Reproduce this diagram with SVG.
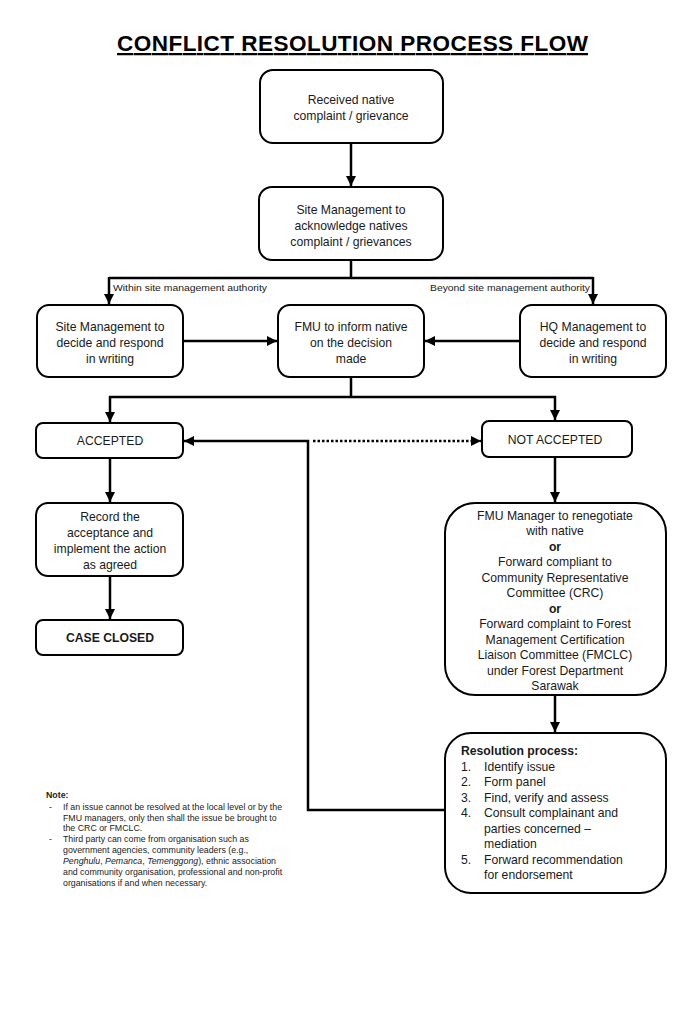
<svg xmlns="http://www.w3.org/2000/svg" width="700" height="1011" viewBox="0 0 700 1011">
<style>
.box{fill:#fff;stroke:#000;stroke-width:2}
.t{font-family:"Liberation Sans",Arial,sans-serif;font-size:12.2px;fill:#1a1a1a;text-anchor:middle}
.tl{font-family:"Liberation Sans",Arial,sans-serif;font-size:12.2px;fill:#1a1a1a}
.b{font-weight:bold}
.lbl{font-family:"Liberation Sans",Arial,sans-serif;font-size:9.5px;fill:#1a1a1a}
.note{font-family:"Liberation Sans",Arial,sans-serif;font-size:8.8px;fill:#222}
.c{fill:none;stroke:#000;stroke-width:2.5}
.d{fill:none;stroke:#000;stroke-width:2.5;stroke-dasharray:2.5 2}
</style>
<defs>
<marker id="ah" viewBox="0 0 10 10" refX="10" refY="5" markerWidth="4" markerHeight="4" orient="auto" markerUnits="strokeWidth">
<path d="M0,0 L10,5 L0,10 z" fill="#000"/>
</marker>
</defs>
<rect width="700" height="1011" fill="#fff"/>
<g id="title">
<text x="352.5" y="51" font-family="Liberation Sans,Arial,sans-serif" font-size="22.5" font-weight="bold" text-anchor="middle" text-decoration="underline" fill="#000" textLength="471" lengthAdjust="spacing">CONFLICT RESOLUTION PROCESS FLOW</text>
</g>
<g id="connectors">
<path class="c" d="M351,143 V186" marker-end="url(#ah)"/>
<path class="c" d="M351,260 V278 M109,278 H593"/>
<path class="c" d="M109,277 V304" marker-end="url(#ah)"/>
<path class="c" d="M593,277 V304" marker-end="url(#ah)"/>
<path class="c" d="M183,341 H277" marker-end="url(#ah)"/>
<path class="c" d="M520,341 H425" marker-end="url(#ah)"/>
<path class="c" d="M351,377 V397 M109,397 H556"/>
<path class="c" d="M110,396 V422" marker-end="url(#ah)"/>
<path class="c" d="M555,396 V420" marker-end="url(#ah)"/>
<path class="c" d="M445,810 H308 V441 H184" marker-end="url(#ah)"/>
<path class="d" d="M313,441 H481" marker-end="url(#ah)"/>
<path class="c" d="M110,458 V502" marker-end="url(#ah)"/>
<path class="c" d="M110,576 V619" marker-end="url(#ah)"/>
<path class="c" d="M555,457 V502" marker-end="url(#ah)"/>
<path class="c" d="M555,695 V732" marker-end="url(#ah)"/>
<text class="lbl" x="113" y="291" textLength="154" lengthAdjust="spacingAndGlyphs">Within site management authority</text>
<text class="lbl" x="430" y="291" textLength="160" lengthAdjust="spacingAndGlyphs">Beyond site management authority</text>
</g>
<g id="received">
<rect class="box" x="260" y="70" width="183" height="73" rx="13"/>
<text class="t" x="351" y="104">Received  native</text>
<text class="t" x="351" y="120">complaint / grievance</text>
</g>
<g id="acknowledge">
<rect class="box" x="259" y="187" width="184" height="73" rx="13"/>
<text class="t" x="351" y="214">Site Management  to</text>
<text class="t" x="351" y="230">acknowledge  natives</text>
<text class="t" x="351" y="246">complaint / grievances</text>
</g>
<g id="site-decide">
<rect class="box" x="37" y="305" width="146" height="72" rx="12"/>
<text class="t" x="110" y="331">Site Management  to</text>
<text class="t" x="110" y="347">decide and respond</text>
<text class="t" x="110" y="363">in writing</text>
</g>
<g id="fmu-inform">
<rect class="box" x="278" y="305" width="146" height="72" rx="12"/>
<text class="t" x="351" y="331">FMU to inform  native</text>
<text class="t" x="351" y="347">on the decision</text>
<text class="t" x="351" y="363">made</text>
</g>
<g id="hq-decide">
<rect class="box" x="520" y="305" width="146" height="72" rx="12"/>
<text class="t" x="593" y="331">HQ Management  to</text>
<text class="t" x="593" y="347">decide and respond</text>
<text class="t" x="593" y="363">in writing</text>
</g>
<g id="accepted">
<rect class="box" x="36" y="423" width="147" height="35" rx="7"/>
<text class="t" x="110" y="445">ACCEPTED</text>
</g>
<g id="not-accepted">
<rect class="box" x="482" y="421" width="150" height="36" rx="7"/>
<text class="t" x="555" y="444">NOT  ACCEPTED</text>
</g>
<g id="record">
<rect class="box" x="36" y="503" width="147" height="73" rx="12"/>
<text class="t" x="110" y="521">Record the</text>
<text class="t" x="110" y="537">acceptance and</text>
<text class="t" x="110" y="553">implement the action</text>
<text class="t" x="110" y="569">as agreed</text>
</g>
<g id="case-closed">
<rect class="box" x="36" y="620" width="147" height="35" rx="7"/>
<text class="t b" x="110" y="642">CASE  CLOSED</text>
</g>
<g id="renegotiate">
<rect class="box" x="445" y="503" width="221" height="192" rx="30"/>
<text class="t" x="555" y="520" font-size="12.6">FMU Manager  to renegotiate</text>
<text class="t" x="555" y="535" font-size="12.6">with native</text>
<text class="t b" x="555" y="551" font-size="12.6">or</text>
<text class="t" x="555" y="566" font-size="12.6">Forward  compliant to</text>
<text class="t" x="555" y="582" font-size="12.6">Community  Representative</text>
<text class="t" x="555" y="597" font-size="12.6">Committee (CRC)</text>
<text class="t b" x="555" y="613" font-size="12.6">or</text>
<text class="t" x="555" y="628" font-size="12.6">Forward  complaint to Forest</text>
<text class="t" x="555" y="644" font-size="12.6">Management  Certification</text>
<text class="t" x="555" y="659" font-size="12.6">Liaison Committee (FMCLC)</text>
<text class="t" x="555" y="675" font-size="12.6">under Forest Department</text>
<text class="t" x="555" y="690" font-size="12.6">Sarawak</text>
</g>
<g id="resolution">
<rect class="box" x="445" y="733" width="221" height="160" rx="26"/>
<text class="tl b" x="461" y="755" font-size="12.8">Resolution process:</text>
<text class="tl" x="461" y="771">1.</text><text class="tl" x="484" y="771">Identify issue</text>
<text class="tl" x="461" y="786">2.</text><text class="tl" x="484" y="786">Form panel</text>
<text class="tl" x="461" y="802">3.</text><text class="tl" x="484" y="802">Find, verify  and assess</text>
<text class="tl" x="461" y="817">4.</text><text class="tl" x="484" y="817">Consult complainant and</text>
<text class="tl" x="484" y="833">parties concerned –</text>
<text class="tl" x="484" y="848">mediation</text>
<text class="tl" x="461" y="864">5.</text><text class="tl" x="484" y="864">Forward  recommendation</text>
<text class="tl" x="484" y="879">for endorsement</text>
</g>
<g id="note">
<text class="note b" x="46" y="798" font-size="10">Note:</text>
<text class="note" x="49" y="810">-</text>
<text class="note" x="63" y="810">If an issue cannot be resolved at the local level or by the</text>
<text class="note" x="63" y="820.5">FMU managers, only then shall the issue be brought to</text>
<text class="note" x="63" y="831">the CRC or FMCLC.</text>
<text class="note" x="49" y="842">-</text>
<text class="note" x="63" y="842">Third  party can come from organisation such as</text>
<text class="note" x="63" y="853">government agencies, community leaders (e.g.,</text>
<text class="note" x="63" y="864"><tspan font-style="italic">Penghulu</tspan>, <tspan font-style="italic">Pemanca</tspan>,  <tspan font-style="italic">Temenggong</tspan>),  ethnic association</text>
<text class="note" x="63" y="875">and community organisation, professional and non-profit</text>
<text class="note" x="63" y="885.5">organisations if and when necessary.</text>
</g>
</svg>
